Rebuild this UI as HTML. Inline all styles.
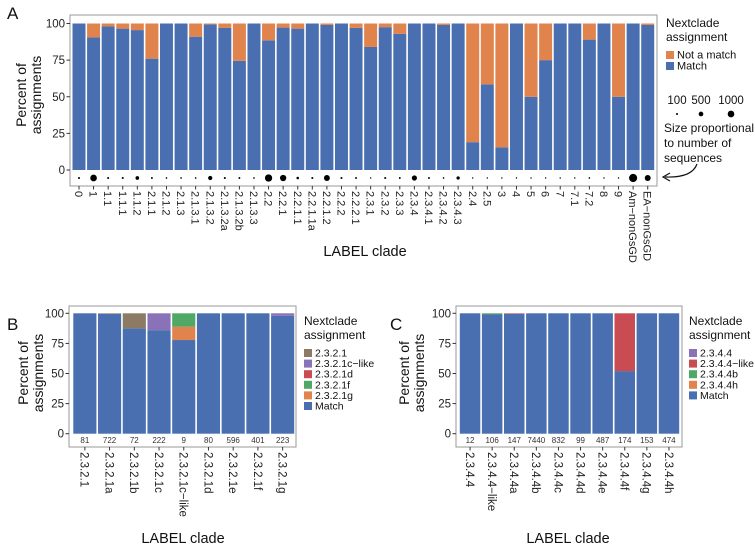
<!DOCTYPE html>
<html><head><meta charset="utf-8"><style>
html,body{margin:0;padding:0;background:#fff;}
svg{display:block;font-family:"Liberation Sans",sans-serif;}
</style></head><body>
<svg id="fig" width="755" height="545" viewBox="0 0 755 545" xmlns="http://www.w3.org/2000/svg">
<text x="7" y="19" font-size="17" fill="#111">A</text>
<text x="7" y="330" font-size="17" fill="#111">B</text>
<text x="390" y="330" font-size="17" fill="#111">C</text>
</svg>
<script>
const NS='http://www.w3.org/2000/svg';
const svg=document.getElementById('fig');
const C={match:'#4A6FB0',notmatch:'#E0834C',brown:'#8C7A62',purple:'#8A72B8',red:'#C94C52',green:'#4FA865',orange:'#E0834C'};

// ---- Panel A data ----
const catsA=['0','1','1.1','1.1.1','1.1.2','2.1.1','2.1.2','2.1.3','2.1.3.1','2.1.3.2','2.1.3.2a','2.1.3.2b','2.1.3.3','2.2','2.2.1','2.2.1.1','2.2.1.1a','2.2.1.2','2.2.2','2.2.2.1','2.3.1','2.3.2','2.3.3','2.3.4','2.3.4.1','2.3.4.2','2.3.4.3','2.4','2.5','3','4','5','6','7','7.1','7.2','8','9','Am\u2212nonGsGD','EA\u2212nonGsGD'];
const matchA=[100,90.5,98,96.5,95.5,76,100,100,91,99.4,97,74.5,100,88.5,97.2,96.5,100,99,100,97,84,97.5,93,100,100,99,100,19,58.5,15.5,100,50,75,100,100,89,100,50,100,99];
const countsA=[100,1000,100,100,300,80,60,60,60,400,100,80,60,1200,900,150,100,800,100,80,20,100,80,600,80,60,250,40,40,30,40,20,30,40,40,60,10,30,1500,800];
const yTicks=[0,25,50,75,100];

// ---- Panel B data ----
const catsB=['2.3.2.1','2.3.2.1a','2.3.2.1b','2.3.2.1c','2.3.2.1c\u2212like','2.3.2.1d','2.3.2.1e','2.3.2.1f','2.3.2.1g'];
const countsB=[81,722,72,222,9,80,596,401,223];
const matchB=[100,99.5,87.5,86,77.8,100,100,100,98];
const brownB=[0,0.5,12.5,0,0,0,0,0,0];
const purpleB=[0,0,0,14,0,0,0,0,2];
const redB=[0,0,0,0,0,0,0,0,0];
const greenB=[0,0,0,0,11.1,0,0,0,0];
const orangeB=[0,0,0,0,11.1,0,0,0,0];
const legendB=['2.3.2.1','2.3.2.1c\u2212like','2.3.2.1d','2.3.2.1f','2.3.2.1g','Match'];

// ---- Panel C data ----
const catsC=['2.3.4.4','2.3.4.4\u2212like','2.3.4.4a','2.3.4.4b','2.3.4.4c','2.3.4.4d','2.3.4.4e','2.3.4.4f','2.3.4.4g','2.3.4.4h'];
const countsC=[12,106,147,7440,832,99,487,174,153,474];
const matchC=[100,99,99.5,100,100,100,100,52,100,100];
const purpleC=[0,0,0,0,0,0,0,0,0,0];
const redC=[0,0,0.5,0,0,0,0,48,0,0];
const greenC=[0,1,0,0,0,0,0,0,0,0];
const orangeC=[0,0,0,0,0,0,0,0,0,0];
const legendC=['2.3.4.4','2.3.4.4\u2212like','2.3.4.4b','2.3.4.4h','Match'];

function el(tag,attrs,parent,text){const e=document.createElementNS(NS,tag);for(const k in attrs)e.setAttribute(k,attrs[k]);if(text!==undefined)e.textContent=text;(parent||svg).appendChild(e);return e;}

function panel(o){
  const g=el('g',{});
  
  
  const ys=v=>o.y0-(v/100)*(o.y0-o.y100);
  const bw=(o.x1-o.x0)/o.cats.length;
  const xs=i=>o.x0+i*bw;
  const fr=el('rect',{x:o.px0,y:o.py0,width:o.px1-o.px0,height:o.py1-o.py0,fill:'#fff',stroke:'#9a9a9a','stroke-width':1},g);
  
  
  o.cats.forEach((c,i)=>{
    let acc=0;
    o.series.forEach(s=>{
      const v=s.vals[i]; if(v<=0) return;
      const r=el('rect',{x:xs(i)+0.8,y:ys(acc+v),width:bw-1.6,height:ys(acc)-ys(acc+v),fill:s.color},g);
      
      
      acc+=v;
    });
    const cx=xs(i)+bw/2;
    el('line',{x1:cx,x2:cx,y1:o.py1,y2:o.py1+3.5,stroke:'#333','stroke-width':1},g);
    const t=el('text',{x:0,y:0,'font-size':o.tickFs,fill:'#222',transform:`translate(${cx-o.tickFs*0.36},${o.py1+5}) rotate(90)`},g,c);
    
    
    if(o.dots){
      const d=el('circle',{cx:cx,cy:o.dotY,r:Math.max(0.7,Math.sqrt(o.counts[i])*0.105),fill:'#000'},g);
      
      
    } else {
      const n=el('text',{x:cx,y:o.dotY,'font-size':8,'text-anchor':'middle',fill:'#333'},g,o.counts[i]);
      
      
    }
  });
  yTicks.forEach(v=>{
    el('line',{x1:o.px0-3.5,x2:o.px0,y1:ys(v),y2:ys(v),stroke:'#333','stroke-width':1},g);
    const t=el('text',{x:o.px0-5,y:ys(v)+4,'font-size':11.5,'text-anchor':'end',fill:'#222'},g,v);
    
    
  });
  const yt=el('text',{x:0,y:0,'font-size':14,'text-anchor':'middle',fill:'#111',transform:`translate(${o.ytx},${o.yty}) rotate(-90)`},g);
  
  
  el('tspan',{x:0,dy:0},yt,'Percent of');
  el('tspan',{x:0,dy:15},yt,'assignments');
  const xt=el('text',{x:o.xtx,y:o.xty,'font-size':14.5,'text-anchor':'middle',fill:'#111'},g,'LABEL clade');
  
  
  const lg=el('g',{},g);
  
  
  el('text',{x:o.legX,y:o.legY,'font-size':12,fill:'#111'},lg,'Nextclade');
  el('text',{x:o.legX,y:o.legY+14,'font-size':12,fill:'#111'},lg,'assignment');
  o.legend.forEach((l,k)=>{
    const yy=o.legY+24+k*o.legSp;
    const sw=el('rect',{x:o.legX,y:yy,width:8,height:8,fill:l.color},lg);
    
    
    const lt=el('text',{x:o.legX+11,y:yy+7.5,'font-size':o.legFs,fill:'#111'},lg,l.label);
    
    
  });
}

const notA=matchA.map(v=>100-v);
panel({name:'panel-a',cats:catsA,x0:71.7,x1:655,px0:70,px1:657,py0:15,py1:186,y0:170,y100:23.5,dotY:178,dots:true,counts:countsA,tickFs:11,
  series:[{key:'match',vals:matchA,color:C.match},{key:'notmatch',vals:notA,color:C.notmatch}],
  ytx:26,yty:95,xtx:365,xty:256,legX:666,legY:27,legSp:11,legFs:11,
  legend:[{label:'Not a match',color:C.notmatch},{label:'Match',color:C.match}]});
panel({name:'panel-b',cats:catsB,x0:72.5,x1:295,px0:69,px1:296,py0:306,py1:447,y0:433.7,y100:313.3,dotY:443,dots:false,counts:countsB,tickFs:11.5,
  series:[{key:'match',vals:matchB,color:C.match},{key:'2.3.2.1g',vals:orangeB,color:C.orange},{key:'2.3.2.1f',vals:greenB,color:C.green},{key:'2.3.2.1d',vals:redB,color:C.red},{key:'2.3.2.1c-like',vals:purpleB,color:C.purple},{key:'2.3.2.1',vals:brownB,color:C.brown}],
  ytx:28,yty:373,xtx:183,xty:543,legX:304,legY:325,legSp:10.6,legFs:10.5,
  legend:legendB.map((l,k)=>({label:l,color:[C.brown,C.purple,C.red,C.green,C.orange,C.match][k]}))});
panel({name:'panel-c',cats:catsC,x0:459,x1:680,px0:456,px1:682,py0:306,py1:447,y0:433.7,y100:313.3,dotY:443,dots:false,counts:countsC,tickFs:11.5,
  series:[{key:'match',vals:matchC,color:C.match},{key:'2.3.4.4h',vals:orangeC,color:C.orange},{key:'2.3.4.4b',vals:greenC,color:C.green},{key:'2.3.4.4-like',vals:redC,color:C.red},{key:'2.3.4.4',vals:purpleC,color:C.purple}],
  ytx:409,yty:373,xtx:568,xty:543,legX:689,legY:325,legSp:10.6,legFs:10.5,
  legend:legendC.map((l,k)=>({label:l,color:[C.purple,C.red,C.green,C.orange,C.match][k]}))});

const sg=el('g',{});


const sizeVals=[100,500,1000];
sizeVals.forEach((v,k)=>{
  const cx=[677,701,731][k];
  el('text',{x:cx,y:104,'font-size':11.5,'text-anchor':'middle',fill:'#111'},sg,v);
  const d=el('circle',{cx:cx,cy:114,r:Math.sqrt(v)*0.105,fill:'#000'},sg);
  
  
});
['Size proportional','to number of','sequences'].forEach((s,k)=>el('text',{x:664,y:132+k*15,'font-size':12,fill:'#111'},sg,s));
el('path',{d:'M697,164 Q692,178 665,177',fill:'none',stroke:'#111','stroke-width':1.2},sg);
el('path',{d:'M670,173 L663,177 L670,181',fill:'none',stroke:'#111','stroke-width':1.2},sg);
</script>
</body></html>
